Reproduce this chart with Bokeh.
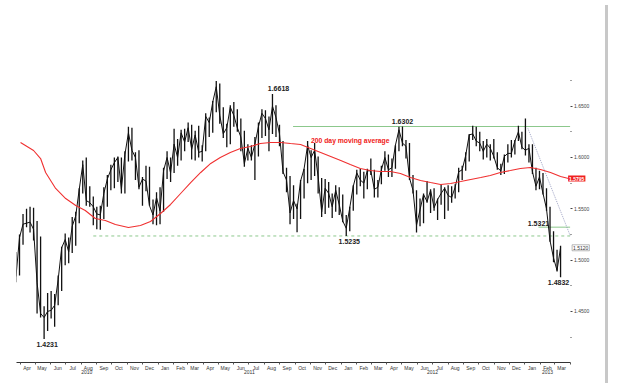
import pandas as pd
from bokeh.plotting import figure
from bokeh.models import (FixedTicker, PrintfTickFormatter, Label, ColumnDataSource, Range1d,
                          Div, LinearAxis)
from bokeh.layouts import row
from bokeh.embed import file_html
from bokeh.resources import INLINE
from bokeh.core.properties import value

# ---------------- data (GBP/USD weekly bars) ----------------
first_week = "2010-03-26"
last_week = "2013-03-15"

high_2010 = [1.5080, 1.5250, 1.5450, 1.5500, 1.5520, 1.5510, 1.5380, 1.5230, 1.4550, 1.4680,
             1.4700, 1.4670, 1.4850, 1.5130, 1.5260, 1.5220, 1.5420, 1.5470, 1.5700, 1.5970,
             1.6000, 1.5720, 1.5620, 1.5520, 1.5530, 1.5710, 1.5830, 1.5930, 1.6000, 1.6010,
             1.6000, 1.6060, 1.6300, 1.6290, 1.6050, 1.6070, 1.5810, 1.5920, 1.5910, 1.5590, 1.5660]
low_2010 = [1.4785, 1.4850, 1.5150, 1.5320, 1.5270, 1.5190, 1.4480, 1.4440, 1.4231, 1.4310,
            1.4430, 1.4350, 1.4560, 1.4700, 1.4950, 1.4970, 1.5070, 1.5140, 1.5360, 1.5650,
            1.5530, 1.5520, 1.5340, 1.5300, 1.5295, 1.5400, 1.5520, 1.5680, 1.5700, 1.5760,
            1.5650, 1.5650, 1.5960, 1.5970, 1.5780, 1.5690, 1.5530, 1.5670, 1.5530, 1.5350, 1.5340]
close_2010 = [1.4840, 1.5220, 1.5350, 1.5360, 1.5370, 1.5300, 1.4780, 1.4480, 1.4440, 1.4500,
              1.4510, 1.4560, 1.4810, 1.5120, 1.5200, 1.5080, 1.5330, 1.5430, 1.5690, 1.5930,
              1.5580, 1.5560, 1.5520, 1.5450, 1.5440, 1.5650, 1.5790, 1.5880, 1.5950, 1.6000,
              1.5690, 1.6030, 1.6240, 1.6070, 1.6000, 1.5710, 1.5790, 1.5770, 1.5530, 1.5440, 1.5610]

high_2011 = [1.5710, 1.5900, 1.6060, 1.6000, 1.6280, 1.6180, 1.6270, 1.6280, 1.6340, 1.6320,
             1.6260, 1.6310, 1.6120, 1.6430, 1.6390, 1.6550, 1.6746, 1.6720, 1.6490, 1.6330,
             1.6510, 1.6540, 1.6470, 1.6380, 1.6260, 1.6130, 1.6120, 1.6200, 1.6340, 1.6470,
             1.6460, 1.6400, 1.6618, 1.6510, 1.6320, 1.6160, 1.5900, 1.5820, 1.5730, 1.5550,
             1.5780, 1.5890, 1.6160, 1.6070, 1.6140, 1.6010, 1.5800, 1.5790, 1.5760, 1.5650,
             1.5730, 1.5710]
low_2011 = [1.5350, 1.5470, 1.5790, 1.5760, 1.5850, 1.5920, 1.5970, 1.6060, 1.6150, 1.5980,
            1.5970, 1.6000, 1.5960, 1.6060, 1.6200, 1.6240, 1.6440, 1.6330, 1.6190, 1.6100,
            1.6130, 1.6300, 1.6250, 1.6060, 1.5910, 1.5970, 1.5970, 1.5780, 1.6010, 1.6190,
            1.6210, 1.6060, 1.6230, 1.6200, 1.6110, 1.5840, 1.5660, 1.5350, 1.5400, 1.5272,
            1.5400, 1.5600, 1.5750, 1.5780, 1.5820, 1.5650, 1.5420, 1.5450, 1.5510, 1.5410,
            1.5470, 1.5440]
close_2011 = [1.5480, 1.5870, 1.6000, 1.5850, 1.6130, 1.6000, 1.6240, 1.6150, 1.6290, 1.6080,
              1.6220, 1.6050, 1.6060, 1.6400, 1.6340, 1.6540, 1.6690, 1.6410, 1.6230, 1.6290,
              1.6490, 1.6410, 1.6290, 1.6200, 1.5940, 1.6090, 1.6000, 1.6130, 1.6300, 1.6430,
              1.6380, 1.6270, 1.6500, 1.6390, 1.6230, 1.5860, 1.5780, 1.5460, 1.5580, 1.5500,
              1.5770, 1.5890, 1.6120, 1.6000, 1.6070, 1.5810, 1.5470, 1.5700, 1.5650, 1.5520,
              1.5680, 1.5540]

high_2012 = [1.5640, 1.5440, 1.5520, 1.5730, 1.5880, 1.5890, 1.5860, 1.5890, 1.5990, 1.5880,
             1.5780, 1.5920, 1.6060, 1.6030, 1.5990, 1.6120, 1.6300, 1.6302, 1.6170, 1.6140,
             1.5830, 1.5680, 1.5600, 1.5650, 1.5770, 1.5690, 1.5700, 1.5600, 1.5740, 1.5710,
             1.5730, 1.5720, 1.5740, 1.5900, 1.5920, 1.6050, 1.6230, 1.6310, 1.6300, 1.6250,
             1.6160, 1.6180, 1.6130, 1.6180, 1.6050, 1.5940, 1.6030, 1.6130, 1.6170, 1.6170,
             1.6310, 1.6250]
low_2012 = [1.5370, 1.5235, 1.5280, 1.5480, 1.5640, 1.5720, 1.5600, 1.5690, 1.5830, 1.5610,
            1.5610, 1.5740, 1.5870, 1.5810, 1.5810, 1.5890, 1.6060, 1.6110, 1.5990, 1.5780,
            1.5650, 1.5268, 1.5330, 1.5360, 1.5560, 1.5460, 1.5480, 1.5390, 1.5540, 1.5400,
            1.5480, 1.5560, 1.5600, 1.5660, 1.5780, 1.5870, 1.5960, 1.6170, 1.6110, 1.6060,
            1.5980, 1.6000, 1.5970, 1.5990, 1.5880, 1.5830, 1.5840, 1.5950, 1.6000, 1.6030,
            1.6160, 1.6080]
close_2012 = [1.5380, 1.5310, 1.5510, 1.5720, 1.5850, 1.5780, 1.5750, 1.5870, 1.5870, 1.5690,
              1.5710, 1.5880, 1.6000, 1.5880, 1.5900, 1.6120, 1.6270, 1.6140, 1.6110, 1.5800,
              1.5680, 1.5340, 1.5490, 1.5640, 1.5570, 1.5680, 1.5510, 1.5590, 1.5650, 1.5700,
              1.5630, 1.5610, 1.5710, 1.5860, 1.5880, 1.6020, 1.6220, 1.6230, 1.6160, 1.6140,
              1.6060, 1.6130, 1.6090, 1.6010, 1.5900, 1.5870, 1.6010, 1.6040, 1.6040, 1.6160,
              1.6250, 1.6100]

high_2013 = [1.6380, 1.6130, 1.6130, 1.5900, 1.5870, 1.5850, 1.5700, 1.5520, 1.5280, 1.5100, 1.5140]
low_2013 = [1.6020, 1.5950, 1.5840, 1.5680, 1.5690, 1.5640, 1.5480, 1.5180, 1.4980, 1.4890, 1.4832]
close_2013 = [1.6070, 1.6090, 1.5860, 1.5720, 1.5810, 1.5650, 1.5500, 1.5190, 1.5020, 1.4900, 1.5120]

# 200 day moving average
ma_dates = ["2010-04-02", "2010-04-28", "2010-05-12", "2010-05-22", "2010-06-11", "2010-07-01",
            "2010-07-21", "2010-08-09", "2010-08-29", "2010-09-18", "2010-10-08", "2010-11-03",
            "2010-11-27", "2010-12-17", "2011-01-06", "2011-01-26", "2011-02-15", "2011-03-07",
            "2011-03-27", "2011-04-16", "2011-05-05", "2011-05-25", "2011-06-14", "2011-07-04",
            "2011-07-24", "2011-08-13", "2011-09-02", "2011-09-22", "2011-10-12", "2011-11-01",
            "2011-11-21", "2011-12-11", "2011-12-31", "2012-01-19", "2012-02-08", "2012-02-28",
            "2012-03-19", "2012-04-08", "2012-04-28", "2012-05-18", "2012-06-07", "2012-06-27",
            "2012-07-17", "2012-08-06", "2012-08-26", "2012-09-15", "2012-10-05", "2012-10-24",
            "2012-11-13", "2012-12-03", "2012-12-23", "2013-01-12", "2013-02-01", "2013-02-21",
            "2013-03-13", "2013-03-29"]
ma_values = [1.6146, 1.6068, 1.5990, 1.5854, 1.5698, 1.5600,
             1.5532, 1.5483, 1.5405, 1.5386, 1.5347, 1.5318,
             1.5337, 1.5376, 1.5454, 1.5542, 1.5649, 1.5756,
             1.5854, 1.5942, 1.6000, 1.6049, 1.6088, 1.6107,
             1.6136, 1.6146, 1.6146, 1.6136, 1.6127, 1.6088,
             1.6049, 1.6010, 1.5971, 1.5932, 1.5893, 1.5873,
             1.5864, 1.5864, 1.5844, 1.5805, 1.5776, 1.5756,
             1.5737, 1.5747, 1.5766, 1.5786, 1.5805, 1.5825,
             1.5854, 1.5873, 1.5893, 1.5903, 1.5883, 1.5854,
             1.5815, 1.5795]

# annotated swing points
swing_labels = ["1.4231", "1.6618", "1.6302", "1.5235", "1.4832"]
swing_dates = ["2010-05-19", "2011-08-17", "2012-05-02", "2012-01-11", "2013-03-13"]
swing_values = [1.4231, 1.6618, 1.6302, 1.5235, 1.4832]
swing_above = [False, True, True, False, False]
swing_shift_px = [3, 6, 0, 3, -2]

# horizontal levels
level_values = [1.5235, 1.6302, 1.5321]
level_starts = ["2010-08-25", "2011-09-27", "2013-01-28"]
level_dash = ["dashed", "solid", "solid"]
chart_end = "2013-04-01"

# falling trend line
trend_dates = ["2013-01-07", "2013-04-01"]
trend_values = [1.6283, 1.5241]

right_ticks = [1.45, 1.50, 1.55, 1.60, 1.65]
right_minor = [1.425, 1.475, 1.525, 1.575, 1.625, 1.675]

ma_text = "200 day moving average"
ma_text_date = "2012-01-19"
ma_text_value = 1.6166

# ---------------- helpers ----------------
origin = pd.Timestamp("2010-04-01")


def day(d):
    return int((pd.Timestamp(d) - origin).days)


week_ends = pd.date_range(first_week, last_week, freq="W-FRI")
highs = high_2010 + high_2011 + high_2012 + high_2013
lows = low_2010 + low_2011 + low_2012 + low_2013
closes = close_2010 + close_2011 + close_2012 + close_2013
n = min(len(week_ends), len(highs), len(lows), len(closes))
xs = [int((w - origin).days) - 2 for w in week_ends[:n]]
src = ColumnDataSource(dict(x=xs, h=highs[:n], l=lows[:n], c=closes[:n]))

PX_PER_DAY = 0.5019
FRAME_W = 584
X0 = -7
X1 = X0 + FRAME_W / PX_PER_DAY
X_AXIS_END = day(chart_end)
Y0, Y1 = 1.4002, 1.7452

p = figure(frame_width=FRAME_W, frame_height=354, x_range=Range1d(X0, X1),
           y_range=Range1d(Y0, Y1), output_backend="svg", toolbar_location=None,
           y_axis_location="right",
           min_border_left=16, min_border_right=0, min_border_top=8, min_border_bottom=0)
p.grid.visible = False
p.outline_line_color = None
p.background_fill_color = "white"
p.border_fill_color = "white"

# levels
for v, s, dsh in zip(level_values, level_starts, level_dash):
    p.line([day(s), X_AXIS_END], [v, v], line_color="#8cc88c", line_width=1,
           line_dash="3 3" if dsh == "dashed" else "solid")

# trend line
p.line([day(d) for d in trend_dates], trend_values, line_color="#8a8fb8", line_width=0.8,
       line_dash="1 1")

# price bars
p.segment(x0="x", y0="l", x1="x", y1="h", source=src, line_color="#111111", line_width=1.3)
p.line(x="x", y="c", source=src, line_color="#111111", line_width=1.0)

# moving average
p.line([day(d) for d in ma_dates], ma_values, line_color="#f03030", line_width=1.1)

# swing labels
for t, d, v, above, sh in zip(swing_labels, swing_dates, swing_values, swing_above,
                              swing_shift_px):
    p.text(x=[day(d)], y=[v], text=[t], text_align="center",
           text_baseline="bottom" if above else "top",
           x_offset=sh, y_offset=-3 if above else 3,
           text_font=value("Liberation Sans"), text_font_size="7px",
           text_font_style="bold", text_color="#222222")

p.text(x=[day(level_starts[2])], y=[level_values[2]], text=["1.5321"], text_align="center",
       text_baseline="bottom", y_offset=-1, text_font=value("Liberation Sans"),
       text_font_size="7px", text_font_style="bold", text_color="#222222")

p.text(x=[day(ma_text_date)], y=[ma_text_value], text=[ma_text], text_align="center",
       text_baseline="middle", text_font=value("Liberation Sans"), text_font_size="6.8px",
       text_font_style="bold", text_color="#f02020")

# bottom axis: months
months = pd.date_range("2010-04-01", "2013-03-01", freq="MS")
mids = [int((m - origin).days) + 14 for m in months]
starts = [int((m - origin).days) for m in pd.date_range("2010-04-01", "2013-04-01", freq="MS")]
xa = p.xaxis[0]
xa.ticker = FixedTicker(ticks=mids, minor_ticks=starts)
xa.major_label_overrides = {m: mm.strftime("%b") for m, mm in zip(mids, months)}
xa.bounds = (X0, X_AXIS_END)
xa.axis_line_color = "#333333"
xa.axis_line_width = 1
xa.major_tick_out = 0
xa.major_tick_in = 0
xa.minor_tick_out = 2
xa.minor_tick_in = 0
xa.minor_tick_line_color = "#555555"
xa.major_label_standoff = 0
xa.major_label_text_font = "Liberation Sans"
xa.major_label_text_font_size = "5px"
xa.major_label_text_color = "#333333"

# second bottom axis: years centred on each year's span
year_pos = []
year_txt = []
for yr in [2010, 2011, 2012, 2013]:
    a = max(X0, day(f"{yr}-01-01"))
    b = min(X_AXIS_END, day(f"{yr}-12-31"))
    year_pos.append(int((a + b) // 2))
    year_txt.append(str(yr))
ya2 = LinearAxis(ticker=FixedTicker(ticks=year_pos, minor_ticks=[]),
                 major_label_overrides=dict(zip(year_pos, year_txt)),
                 axis_line_color=None, major_tick_line_color=None, minor_tick_line_color=None,
                 major_tick_out=0, major_tick_in=0, minor_tick_out=0, minor_tick_in=0,
                 major_label_standoff=-4, major_label_text_font="Liberation Sans",
                 major_label_text_font_size="5px", major_label_text_color="#333333")
p.add_layout(ya2, "below")

# right axis, pinned where the time axis ends
ya = p.yaxis[0]
ya.fixed_location = X_AXIS_END
ya.ticker = FixedTicker(ticks=right_ticks, minor_ticks=right_minor)
ya.formatter = PrintfTickFormatter(format="%.4f")
ya.axis_line_color = None
ya.major_tick_out = 2
ya.major_tick_in = 0
ya.minor_tick_out = 1
ya.minor_tick_in = 0
ya.major_tick_line_color = "#444444"
ya.minor_tick_line_color = "#444444"
ya.major_label_standoff = 2
ya.major_label_text_font = "Liberation Sans"
ya.major_label_text_font_size = "5px"
ya.major_label_text_color = "#444444"

# value boxes on the right
p.add_layout(Label(x=X_AXIS_END, y=ma_values[-1], x_offset=-2, text=f"{ma_values[-1]:.4f}",
                   text_baseline="middle", text_align="left", text_font="Liberation Sans",
                   text_font_size="5px", text_font_style="bold", text_color="white",
                   background_fill_color="#f02020", padding=1))
p.add_layout(Label(x=X_AXIS_END, y=closes[n - 1], x_offset=2, text=f"{closes[n - 1]:.4f}",
                   text_baseline="middle", text_align="left", text_font="Liberation Sans",
                   text_font_size="5px", text_color="#333333",
                   background_fill_color="white", border_line_color="#888888",
                   border_line_width=0.6, padding=1))

bar = Div(width=3, height=383, styles={"background-color": "#c8c8c8"})
layout = row(p, bar)

open("out.html", "w").write(file_html(layout, INLINE))
